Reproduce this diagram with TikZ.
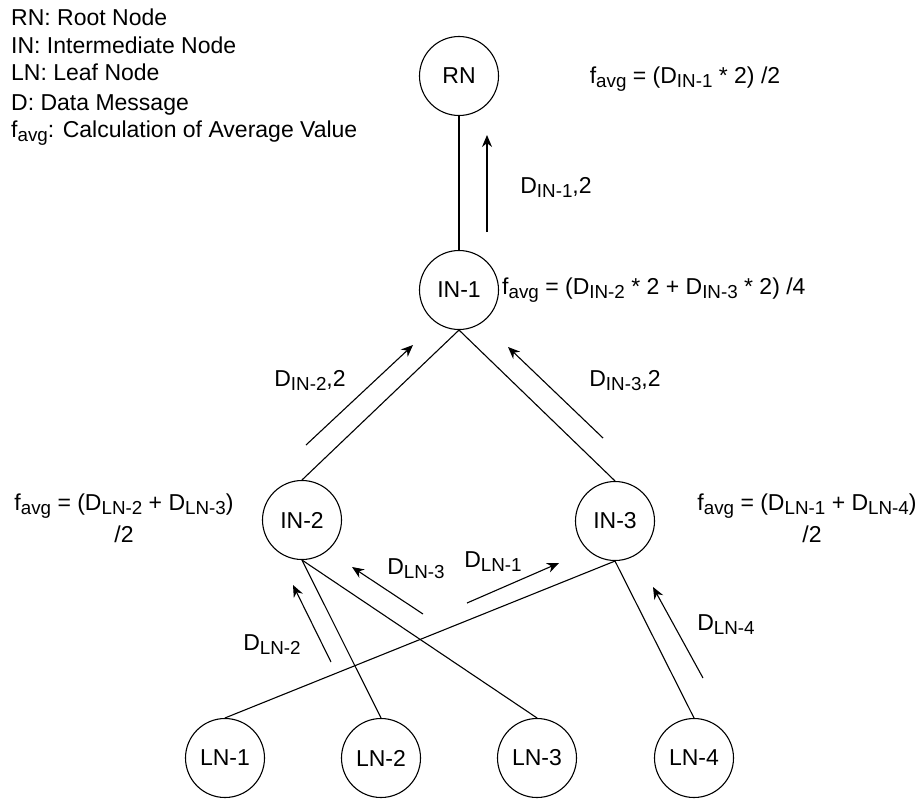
\documentclass[tikz,border=0pt]{standalone}
\usepackage{fontspec}
\setmainfont{Liberation Sans}
\usetikzlibrary{arrows.meta}
\newcommand\sbs[1]{\raisebox{-4.5pt}{\fontsize{18.8}{18.8}\selectfont #1}}
\begin{document}
\begin{tikzpicture}[x=1pt,y=-1pt,
  nd/.style={circle,draw,line width=1.1pt,minimum size=79pt,inner sep=0pt,font=\fontsize{23}{27}\selectfont},
  txt/.style={font=\fontsize{23}{27}\selectfont,inner sep=0pt},
  link/.style={line width=1.1pt},
  flow/.style={line width=1.1pt,-{Stealth[length=12pt,width=10pt]}}]
\useasboundingbox (0,0) rectangle (923,800);
% legend
\node[txt,anchor=base west] (lg1) at (11,26) {RN: Root Node};
\node[txt,anchor=base west] (lg2) at (11,53) {IN: Intermediate Node};
\node[txt,anchor=base west] (lg3) at (11,81) {LN: Leaf Node};
\node[txt,anchor=base west] (lg4) at (11,110) {D: Data Message};
\node[txt,anchor=base west] (lg5) at (11,137) {f\sbs{avg}: Calculation of Average Value};
% nodes
\node[nd] (rn) at (459,76) {RN};
\node[nd] (in1) at (459,290) {IN-1};
\node[nd] (in2) at (302,520) {IN-2};
\node[nd] (in3) at (615,521) {IN-3};
\node[nd] (ln1) at (225,758) {LN-1};
\node[nd] (ln2) at (381,758) {LN-2};
\node[nd] (ln3) at (537,758) {LN-3};
\node[nd] (ln4) at (694,758) {LN-4};
% links
\draw[link] (rn.south) -- (in1.north);
\draw[link] (in1.south) -- (in2.north);
\draw[link] (in1.south) -- (in3.north);
\draw[link] (in2.south) -- (ln2.north);
\draw[link] (in2.south) -- (ln3.north);
\draw[link] (in3.south) -- (ln1.north);
\draw[link] (in3.south) -- (ln4.north);
% flow arrows
\coordinate (a1s) at (487,232); \coordinate (a1e) at (487,135);
\coordinate (a2s) at (306,445); \coordinate (a2e) at (413,345);
\coordinate (a3s) at (603,438); \coordinate (a3e) at (508,347);
\coordinate (a4s) at (331,662); \coordinate (a4e) at (293,585);
\coordinate (a5s) at (423,614); \coordinate (a5e) at (352,567);
\coordinate (a6s) at (467,603); \coordinate (a6e) at (559,563);
\coordinate (a7s) at (703,678); \coordinate (a7e) at (653,587);
\draw[flow] (a1s) -- (a1e);
\draw[flow] (a2s) -- (a2e);
\draw[flow] (a3s) -- (a3e);
\draw[flow] (a4s) -- (a4e);
\draw[flow] (a5s) -- (a5e);
\draw[flow] (a6s) -- (a6e);
\draw[flow] (a7s) -- (a7e);
% flow labels
\node[txt,anchor=base] (d1) at (556,193) {D\sbs{IN-1},2};
\node[txt,anchor=base] (d2) at (310,386) {D\sbs{IN-2},2};
\node[txt,anchor=base] (d3) at (625,386) {D\sbs{IN-3},2};
\node[txt,anchor=base] (d4) at (272,650) {D\sbs{LN-2}};
\node[txt,anchor=base] (d5) at (416,574) {D\sbs{LN-3}};
\node[txt,anchor=base] (d6) at (493,567) {D\sbs{LN-1}};
\node[txt,anchor=base] (d7) at (726,630) {D\sbs{LN-4}};
% averages
\node[txt,anchor=base] (f1) at (685,83) {f\sbs{avg} = (D\sbs{IN-1} * 2) /2};
\node[txt,anchor=base west] (f2) at (502,294) {f\sbs{avg} = (D\sbs{IN-2} * 2 + D\sbs{IN-3} * 2) /4};
\node[txt,anchor=base] (f3a) at (124,510) {f\sbs{avg} = (D\sbs{LN-2} + D\sbs{LN-3})};
\node[txt,anchor=base] (f3b) at (124,542) {/2};
\node[txt,anchor=base] (f4a) at (807,510) {f\sbs{avg} = (D\sbs{LN-1} + D\sbs{LN-4})};
\node[txt,anchor=base] (f4b) at (812,542) {/2};
\end{tikzpicture}
\end{document}
